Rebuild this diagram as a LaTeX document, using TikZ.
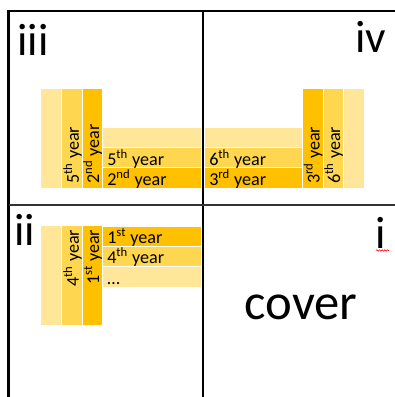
\documentclass[tikz,border=0pt]{standalone}
\usepackage{fontspec}
\setmainfont{Carlito}
\usetikzlibrary{calc,fit,decorations.pathmorphing}
\definecolor{lightgold}{HTML}{FFE699}
\definecolor{midgold}{HTML}{FFD650}
\definecolor{darkgold}{HTML}{FFC000}
\begin{document}
\begin{tikzpicture}[x=0.75pt,y=-0.75pt,
  bar/.style={draw=white, line width=0.75pt, inner sep=0pt, outer sep=0pt},
  yr/.style={font=\fontsize{13.6}{15}\selectfont, inner sep=0pt, text=black},
  lab/.style={font=\fontsize{34}{40}\selectfont, inner sep=0pt, anchor=base west},
  frame/.style={line width=1.9pt, black},
  divider/.style={line width=1.5pt, black}]
\useasboundingbox (0,0) rectangle (395,397);
% frame
\draw[frame] (8.5,397) -- (8.5,11) -- (395,11);
\draw[divider] (203,11) -- (203,397);
\draw[divider, black!80, line width=2pt] (8.5,205) -- (395,205);

% quadrant iii
\node[bar, fill=lightgold, fit={(40.5,88.5) (61.5,188)}] (iiiA) {};
\node[bar, fill=midgold,   fit={(61.5,88.5) (82.5,188)}] (iiiB) {};
\node[bar, fill=darkgold,  fit={(82.5,88.5) (102.5,188)}] (iiiC) {};
\node[bar, fill=lightgold, fit={(102.5,127.5) (201,147.5)}] (iiiH1) {};
\node[bar, fill=midgold,   fit={(102.5,147.5) (201,167.5)}] (iiiH2) {};
\node[bar, fill=darkgold,  fit={(102.5,167.5) (201,188)}] (iiiH3) {};
\node[yr, rotate=90, anchor=base west] (tiiiB) at ($(iiiB.south east)+(-3.5,-4)$) {5\textsuperscript{th} year};
\node[yr, rotate=90, anchor=base west] (tiiiC) at ($(iiiC.south east)+(-3.5,-4)$) {2\textsuperscript{nd} year};
\node[yr, anchor=base west] (tiiiH2) at ($(iiiH2.south west)+(4.5,-2.5)$) {5\textsuperscript{th} year};
\node[yr, anchor=base west] (tiiiH3) at ($(iiiH3.south west)+(4.5,-2.5)$) {2\textsuperscript{nd} year};

% quadrant iv
\node[bar, fill=lightgold, fit={(204.5,127.5) (302.5,147.5)}] (ivH1) {};
\node[bar, fill=midgold,   fit={(204.5,147.5) (302.5,167.5)}] (ivH2) {};
\node[bar, fill=darkgold,  fit={(204.5,167.5) (302.5,188)}] (ivH3) {};
\node[bar, fill=darkgold,  fit={(302.5,88.5) (323,188)}] (ivC) {};
\node[bar, fill=midgold,   fit={(323,88.5) (343.5,188)}] (ivB) {};
\node[bar, fill=lightgold, fit={(343.5,88.5) (364,188)}] (ivA) {};
\node[yr, anchor=base west] (tivH2) at ($(ivH2.south west)+(4.5,-2.5)$) {6\textsuperscript{th} year};
\node[yr, anchor=base west] (tivH3) at ($(ivH3.south west)+(4.5,-2.5)$) {3\textsuperscript{rd} year};
\node[yr, rotate=90, anchor=base west] (tivC) at ($(ivC.south east)+(-3.5,-4)$) {3\textsuperscript{rd} year};
\node[yr, rotate=90, anchor=base west] (tivB) at ($(ivB.south east)+(-3.5,-4)$) {6\textsuperscript{th} year};

% quadrant ii
\node[bar, fill=lightgold, fit={(40.5,225.5) (61.5,325)}] (iiA) {};
\node[bar, fill=midgold,   fit={(61.5,225.5) (82.5,325)}] (iiB) {};
\node[bar, fill=darkgold,  fit={(82.5,225.5) (102.5,325)}] (iiC) {};
\node[bar, fill=darkgold,  fit={(102.5,226.5) (201,246.5)}] (iiH1) {};
\node[bar, fill=midgold,   fit={(102.5,246.5) (201,266.5)}] (iiH2) {};
\node[bar, fill=lightgold, fit={(102.5,266.5) (201,287)}] (iiH3) {};
\node[yr, rotate=90, anchor=base east] (tiiB) at ($(iiB.north east)+(-3.5,4)$) {4\textsuperscript{th} year};
\node[yr, rotate=90, anchor=base east] (tiiC) at ($(iiC.north east)+(-3.5,4)$) {1\textsuperscript{st} year};
\node[yr, anchor=base west] (tiiH1) at ($(iiH1.south west)+(4.5,-3)$) {1\textsuperscript{st} year};
\node[yr, anchor=base west] (tiiH2) at ($(iiH2.south west)+(4.5,-3)$) {4\textsuperscript{th} year};
\node[yr, anchor=base west] (tiiH3) at ($(iiH3.south west)+(4.5,-3)$) {…};

% labels
\node[lab] (liii) at (17,55) {iii};
\node[lab] (liv) at (355,52) {iv};
\node[lab] (lii) at (14,245) {ii};
\node[lab] (li) at (375,248) {i};
\draw[red, line width=0.4pt, decorate, decoration={snake, amplitude=0.6pt, segment length=2pt}] (376,250.5) -- (389,250.5);
\node[font=\fontsize{38}{44}\selectfont, inner sep=0pt, anchor=base] (cover) at (301,319) {cover};
\end{tikzpicture}
\end{document}
